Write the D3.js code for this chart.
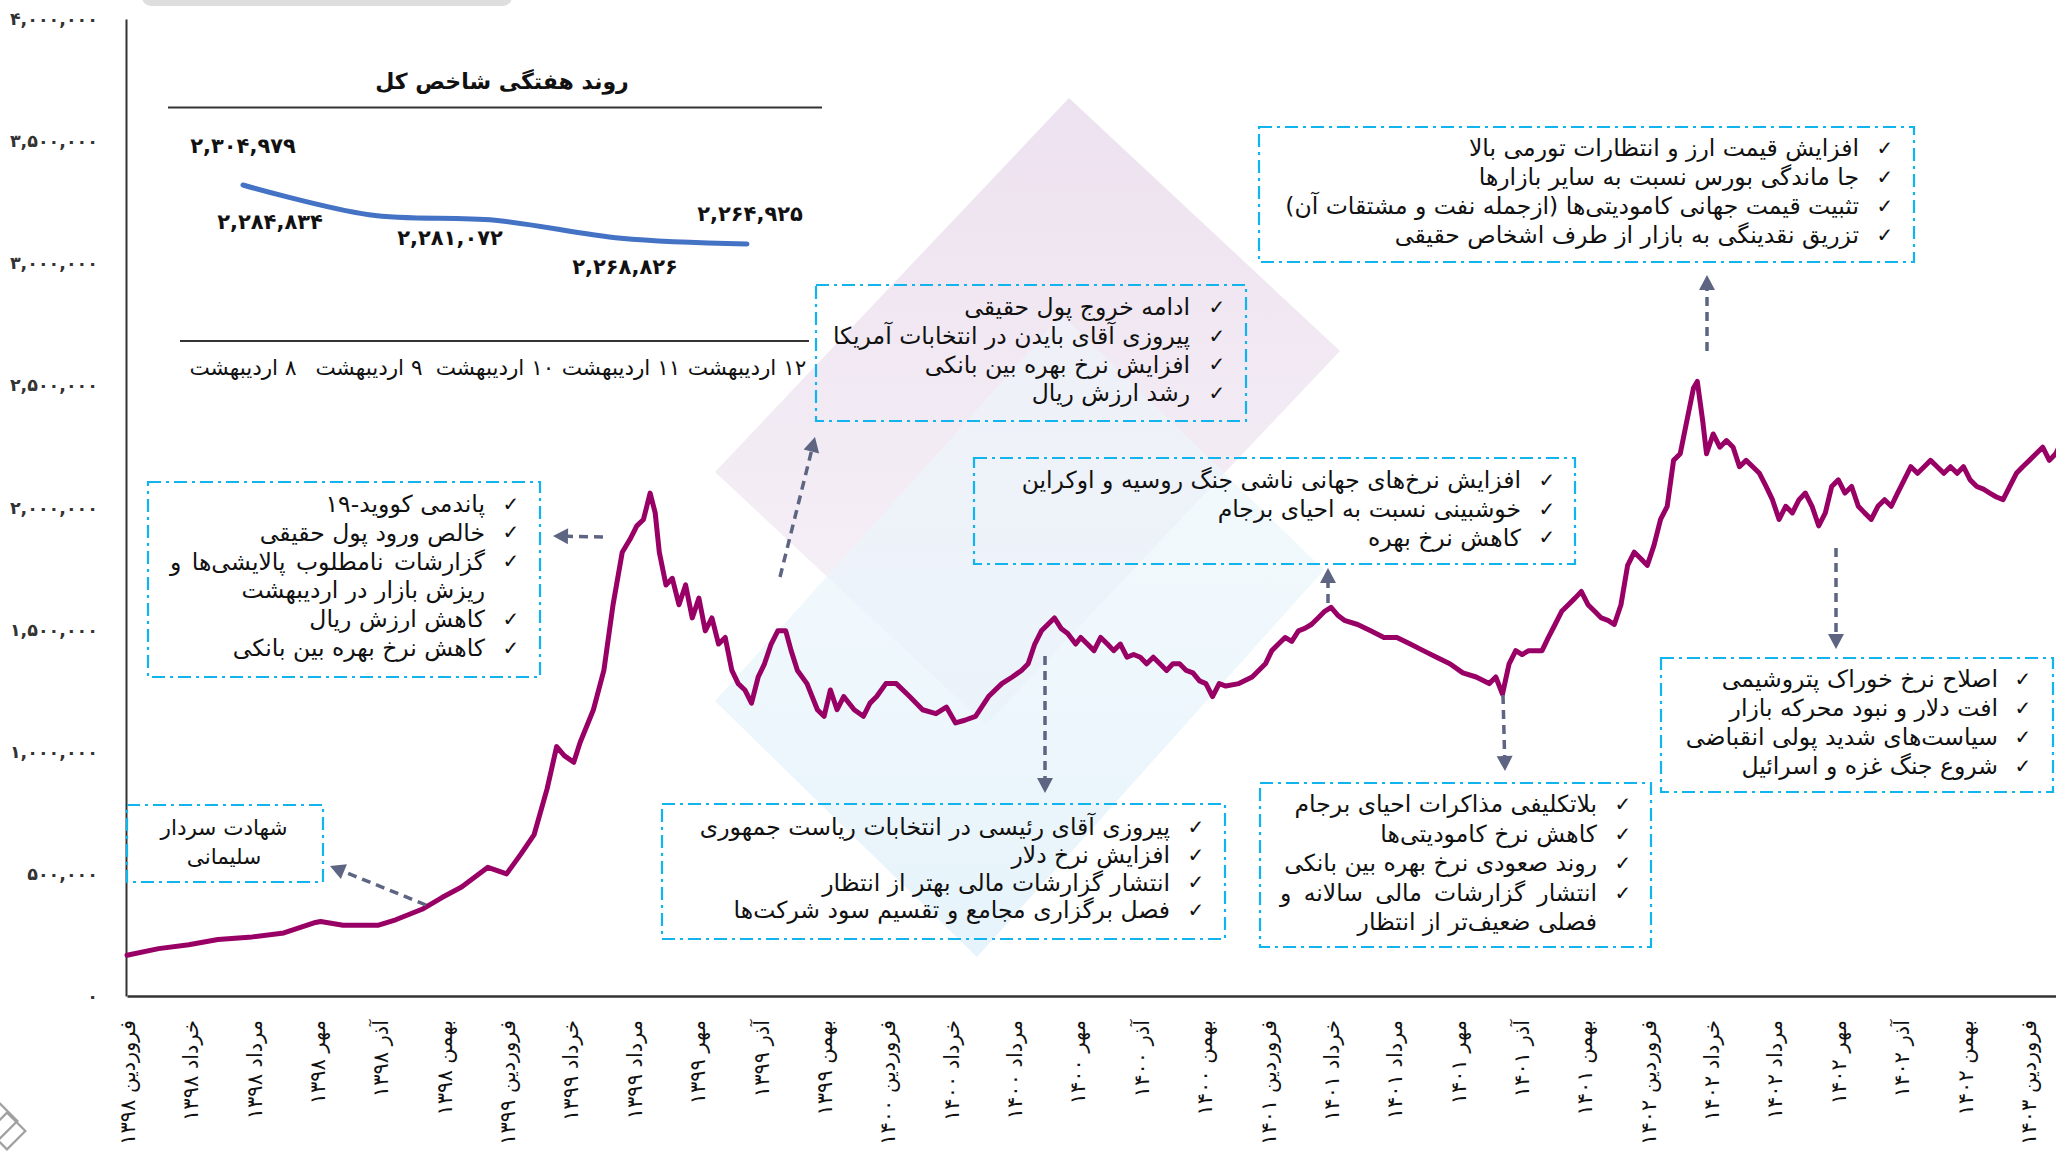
<!DOCTYPE html>
<html><head><meta charset="utf-8">
<script src="https://cdn.jsdelivr.net/npm/d3@7"></script>
<style>
body{margin:0;background:#fff;overflow:hidden}
svg{display:block}
text{font-family:"DejaVu Sans",sans-serif}
</style>
</head><body>
<svg id="c" width="2056" height="1151"></svg>
<script>
// ---------------- DATA ----------------
const xTickMonths = d3.range(0, 61, 2);
const xTickLabels = [
 "فروردین ۱۳۹۸","خرداد ۱۳۹۸","مرداد ۱۳۹۸","مهر ۱۳۹۸","آذر ۱۳۹۸","بهمن ۱۳۹۸",
 "فروردین ۱۳۹۹","خرداد ۱۳۹۹","مرداد ۱۳۹۹","مهر ۱۳۹۹","آذر ۱۳۹۹","بهمن ۱۳۹۹",
 "فروردین ۱۴۰۰","خرداد ۱۴۰۰","مرداد ۱۴۰۰","مهر ۱۴۰۰","آذر ۱۴۰۰","بهمن ۱۴۰۰",
 "فروردین ۱۴۰۱","خرداد ۱۴۰۱","مرداد ۱۴۰۱","مهر ۱۴۰۱","آذر ۱۴۰۱","بهمن ۱۴۰۱",
 "فروردین ۱۴۰۲","خرداد ۱۴۰۲","مرداد ۱۴۰۲","مهر ۱۴۰۲","آذر ۱۴۰۲","بهمن ۱۴۰۲",
 "فروردین ۱۴۰۳"];
const yTickValues = [0,500000,1000000,1500000,2000000,2500000,3000000,3500000,4000000];
const yTickLabels = ["۰","۵۰۰,۰۰۰","۱,۰۰۰,۰۰۰","۱,۵۰۰,۰۰۰","۲,۰۰۰,۰۰۰","۲,۵۰۰,۰۰۰","۳,۰۰۰,۰۰۰","۳,۵۰۰,۰۰۰","۴,۰۰۰,۰۰۰"];

// [month index from Farvardin 1398, index value in thousands]
const indexSeries = [
[0,167],[1.00,194],[1.95,210],[2.87,231],[3.95,242],[4.95,258],[5.95,301],[6.11,305],[6.82,290],[7.94,290],
[8.48,312],[9.31,355],[9.94,403],[10.56,446],[11.39,527],[11.98,500],[12.43,581],[12.85,661],[13.26,849],[13.56,1021],
[13.80,984],[14.10,957],[14.30,1038],[14.72,1172],[15.05,1333],[15.34,1602],[15.63,1817],[15.88,1871],[16.09,1925],[16.30,1951],
[16.51,2059],[16.67,1978],[16.80,1817],[17.01,1683],[17.21,1710],[17.42,1602],[17.63,1683],[17.84,1548],[18.05,1629],[18.25,1495],
[18.46,1548],[18.67,1441],[18.88,1468],[19.09,1333],[19.29,1279],[19.50,1253],[19.71,1199],[19.92,1306],[20.12,1360],[20.33,1441],
[20.54,1495],[20.79,1495],[20.96,1414],[21.16,1333],[21.46,1279],[21.79,1172],[22.00,1145],[22.20,1253],[22.41,1172],[22.62,1226],
[22.95,1172],[23.24,1145],[23.45,1199],[23.66,1226],[23.95,1279],[24.28,1279],[24.70,1226],[25.11,1172],[25.53,1156],[25.86,1183],
[26.15,1118],[26.44,1129],[26.78,1145],[27.19,1226],[27.61,1279],[27.94,1306],[28.23,1333],[28.44,1360],[28.65,1441],[28.86,1495],
[29.06,1521],[29.27,1548],[29.48,1505],[29.69,1484],[29.94,1441],[30.10,1468],[30.31,1441],[30.52,1414],[30.73,1468],[30.94,1441],
[31.14,1414],[31.35,1441],[31.56,1387],[31.77,1398],[31.98,1387],[32.18,1360],[32.39,1387],[32.60,1360],[32.81,1333],[33.01,1360],
[33.22,1360],[33.43,1333],[33.64,1323],[33.85,1290],[34.05,1279],[34.26,1226],[34.47,1279],[34.68,1269],[35.09,1279],[35.51,1306],
[35.93,1360],[36.13,1414],[36.34,1441],[36.55,1468],[36.76,1452],[36.97,1495],[37.17,1505],[37.38,1521],[37.59,1548],[37.80,1575],
[38.00,1591],[38.21,1559],[38.42,1538],[38.84,1521],[39.25,1495],[39.67,1468],[40.08,1468],[40.50,1441],[40.91,1414],[41.33,1387],
[41.75,1360],[42.16,1323],[42.58,1306],[42.99,1279],[43.20,1306],[43.41,1236],[43.62,1360],[43.83,1414],[44.03,1398],[44.24,1414],
[44.66,1414],[44.86,1468],[45.07,1521],[45.28,1575],[45.49,1602],[45.70,1629],[45.90,1656],[46.11,1602],[46.32,1575],[46.53,1548],
[46.74,1538],[46.94,1521],[47.15,1602],[47.36,1763],[47.57,1817],[47.78,1790],[47.98,1763],[48.19,1844],[48.40,1951],[48.61,2005],
[48.81,2193],[49.02,2220],[49.23,2355],[49.44,2489],[49.56,2516],[49.73,2355],[49.85,2220],[50.06,2301],[50.27,2247],[50.48,2274],
[50.69,2247],[50.89,2167],[51.10,2193],[51.31,2167],[51.52,2140],[51.73,2086],[51.93,2032],[52.14,1951],[52.35,2005],[52.56,1978],
[52.77,2032],[52.97,2059],[53.18,2005],[53.39,1925],[53.60,1978],[53.80,2086],[54.01,2113],[54.22,2059],[54.43,2086],[54.64,2005],
[54.84,1978],[55.05,1951],[55.26,2005],[55.47,2032],[55.68,2005],[55.88,2059],[56.09,2113],[56.30,2167],[56.51,2140],[56.72,2167],
[56.92,2193],[57.13,2167],[57.34,2140],[57.55,2167],[57.76,2140],[57.96,2167],[58.17,2113],[58.38,2086],[58.59,2075],[58.79,2059],
[59.00,2043],[59.21,2032],[59.42,2086],[59.63,2140],[59.83,2167],[60.04,2193],[60.25,2220],[60.46,2247],[60.67,2193],[60.87,2220],
[61.08,2274],[61.21,2301]];

const insetTitle = "روند هفتگی شاخص کل";
const insetDates = ["۸ اردیبهشت","۹ اردیبهشت","۱۰ اردیبهشت","۱۱ اردیبهشت","۱۲ اردیبهشت"];
const insetValues = [2304979,2284834,2281072,2268826,2264925];
const insetValueLabels = ["۲,۳۰۴,۹۷۹","۲,۲۸۴,۸۳۴","۲,۲۸۱,۰۷۲","۲,۲۶۸,۸۲۶","۲,۲۶۴,۹۲۵"];

const boxCovidLines = ["پاندمی کووید-۱۹","خالص ورود پول حقیقی","گزارشات نامطلوب پالایشی‌ها و","ریزش بازار در اردیبهشت","کاهش ارزش ریال","کاهش نرخ بهره بین بانکی"];
const boxCovidChecks = [1,1,1,0,1,1];
const boxSoleimaniLines = ["شهادت سردار","سلیمانی"];
const boxBidenLines = ["ادامه خروج پول حقیقی","پیروزی آقای بایدن در انتخابات آمریکا","افزایش نرخ بهره بین بانکی","رشد ارزش ریال"];
const boxFxLines = ["افزایش قیمت ارز و انتظارات تورمی بالا","جا ماندگی بورس نسبت به سایر بازارها","تثبیت قیمت جهانی کامودیتی‌ها (ازجمله نفت و مشتقات آن)","تزریق نقدینگی به بازار از طرف اشخاص حقیقی"];
const boxUkraineLines = ["افزایش نرخ‌های جهانی ناشی جنگ روسیه و اوکراین","خوشبینی نسبت به احیای برجام","کاهش نرخ بهره"];
const boxRaisiLines = ["پیروزی آقای رئیسی در انتخابات ریاست جمهوری","افزایش نرخ دلار","انتشار گزارشات مالی بهتر از انتظار","فصل برگزاری مجامع و تقسیم سود شرکت‌ها"];
const boxJcpoaLines = ["بلاتکلیفی مذاکرات احیای برجام","کاهش نرخ کامودیتی‌ها","روند صعودی نرخ بهره بین بانکی","انتشار گزارشات مالی سالانه و","فصلی ضعیف‌تر از انتظار"];
const boxJcpoaChecks = [1,1,1,1,0];
const boxPetroLines = ["اصلاح نرخ خوراک پتروشیمی","افت دلار و نبود محرکه بازار","سیاست‌های شدید پولی انقباضی","شروع جنگ غزه و اسرائیل"];

// ---------------- DRAW ----------------
const svg = d3.select("#c");
const FONT = "DejaVu Sans";
const defs = svg.append("defs");
const pg = defs.append("linearGradient").attr("id","pinkG").attr("x1",0).attr("y1",0).attr("x2",0).attr("y2",1);
pg.append("stop").attr("offset",0).attr("stop-color","#EDE2EF");
pg.append("stop").attr("offset",1).attr("stop-color","#F7F2F8");
const bg = defs.append("linearGradient").attr("id","blueG").attr("x1",0).attr("y1",0).attr("x2",0).attr("y2",1);
bg.append("stop").attr("offset",0).attr("stop-color","#EEF7FC").attr("stop-opacity",0.6);
bg.append("stop").attr("offset",1).attr("stop-color","#E3F2FA");

// decorative diamonds
svg.append("polygon").attr("points","1069,98 1340,351 986,725 715,472").attr("fill","url(#pinkG)");
svg.append("polygon").attr("points","1062,315 1324,570 977,957 715,701").attr("fill","url(#blueG)").attr("opacity",0.9);
// top grey band
svg.append("rect").attr("x",142).attr("y",-12).attr("width",370).attr("height",18).attr("rx",9).attr("fill","#DEDEDE");
// small logo bottom-left
const lg = svg.append("g").attr("fill","none").attr("stroke","#A0A0A0").attr("stroke-width",2.2);
lg.append("rect").attr("x",-14).attr("y",1108).attr("width",26).attr("height",26).attr("transform","rotate(45 -1 1121)");
lg.append("rect").attr("x",-6).attr("y",1118).attr("width",26).attr("height",26).attr("transform","rotate(45 7 1131)");

const x = d3.scaleLinear().domain([0, 60.88]).range([127, 2056]);
const y = d3.scaleLinear().domain([0, 4000000]).range([996, 19]);

// y axis
const gy = svg.append("g").attr("transform","translate(126,0)")
  .call(d3.axisLeft(y).tickValues(yTickValues).tickFormat((d,i)=>yTickLabels[i]).tickSize(0).tickPadding(28));
gy.select(".domain").attr("stroke","#333").attr("stroke-width",2);
gy.selectAll(".tick text").attr("font-family",FONT).attr("font-size",17.5).attr("font-weight","bold").attr("fill","#333");

// x axis
const gx = svg.append("g").attr("transform","translate(0,996)")
  .call(d3.axisBottom(x).tickValues(xTickMonths).tickFormat((d,i)=>xTickLabels[i]).tickSize(0));
gx.select(".domain").attr("stroke","#333").attr("stroke-width",2.5);
gx.selectAll(".tick text")
  .attr("font-family",FONT).attr("font-size",21).attr("fill","#111")
  .attr("direction","rtl")
  .attr("transform","rotate(-90)").attr("x",-24).attr("y",0).attr("dy","0.35em")
  .attr("text-anchor","start");

// main line
svg.append("path").datum(indexSeries)
  .attr("d", d3.line().x(d=>x(d[0])).y(d=>y(d[1]*1000)))
  .attr("fill","none").attr("stroke","#990066").attr("stroke-width",5)
  .attr("stroke-linejoin","round").attr("stroke-linecap","round");

// ---------- inset ----------
svg.append("text").attr("x",502).attr("y",81).attr("dy","0.35em").attr("text-anchor","middle")
  .attr("direction","rtl").attr("font-family",FONT).attr("font-weight","bold").attr("font-size",22).attr("fill","#111").text(insetTitle);
svg.append("line").attr("x1",168).attr("x2",822).attr("y1",107.5).attr("y2",107.5).attr("stroke","#333").attr("stroke-width",2);
svg.append("line").attr("x1",180).attr("x2",809).attr("y1",341).attr("y2",341).attr("stroke","#333").attr("stroke-width",2);
const xi = d3.scalePoint().domain(insetDates).range([243,747]);
const yi = d3.scaleLinear().domain([2264925,2304979]).range([244,185]);
svg.append("path").datum(insetValues)
  .attr("d", d3.line().x((d,i)=>xi(insetDates[i])).y(d=>yi(d)).curve(d3.curveCatmullRom))
  .attr("fill","none").attr("stroke","#4472C4").attr("stroke-width",5).attr("stroke-linecap","round");
const insetLabelOffsets = [[0,-39],[-99,7],[-45,17],[4,28],[3,-30]];
svg.selectAll(".ivl").data(insetValues).join("text").attr("class","ivl")
  .attr("x",(d,i)=>xi(insetDates[i])+insetLabelOffsets[i][0])
  .attr("y",(d,i)=>yi(d)+insetLabelOffsets[i][1]).attr("dy","0.35em")
  .attr("text-anchor","middle").attr("font-family",FONT).attr("font-weight","bold").attr("font-size",21).attr("fill","#111")
  .text((d,i)=>insetValueLabels[i]);
svg.selectAll(".idl").data(insetDates).join("text").attr("class","idl")
  .attr("x",d=>xi(d)).attr("y",367).attr("dy","0.35em").attr("text-anchor","middle").attr("direction","rtl")
  .attr("font-family",FONT).attr("font-size",21.5).attr("fill","#111").text(d=>d);

// ---------- annotation boxes ----------
function drawBox(lines, checks, L){
  const g = svg.append("g");
  g.append("rect").attr("x",L.x).attr("y",L.y).attr("width",L.w).attr("height",L.h)
    .attr("fill","none").attr("stroke","#12B4EE").attr("stroke-width",2.2).attr("stroke-dasharray","13,5,3,5");
  lines.forEach((t,i)=>{
    const yy = L.y0 + L.dy*i;
    if (L.center){
      g.append("text").attr("x",L.center).attr("y",yy).attr("dy","0.35em").attr("text-anchor","middle").attr("direction","rtl")
        .attr("font-family",FONT).attr("font-size",L.fs).attr("fill","#111").text(t);
      return;
    }
    const tx = g.append("text").attr("x",L.right).attr("y",yy).attr("dy","0.35em").attr("text-anchor","start").attr("direction","rtl")
      .attr("font-family",FONT).attr("font-size",L.fs).attr("fill","#111").text(t);
    if (L.justify && L.justify.index===i){
      const w = tx.node().getComputedTextLength();
      const n = (t.match(/ /g)||[]).length;
      const target = L.right - L.justify.left;
      if (n>0 && target>w) tx.attr("word-spacing", (target-w)/n);
    }
    if (checks[i]) g.append("text").attr("x",L.check).attr("y",yy).attr("dy","0.35em").attr("text-anchor","middle")
      .attr("font-family",FONT).attr("font-size",20).attr("fill","#111").text("✓");
  });
}
const FS = 23.5;
drawBox(boxCovidLines, boxCovidChecks, {x:148,y:482,w:392,h:195,y0:503.5,dy:28.9,right:485,check:511,fs:FS,justify:{index:2,left:170}});
drawBox(boxSoleimaniLines, [0,0], {x:127,y:805,w:196,h:77,y0:827,dy:29,center:224,fs:21.5});
drawBox(boxBidenLines, [1,1,1,1], {x:816,y:285,w:430,h:136,y0:307,dy:28.7,right:1190,check:1217,fs:FS});
drawBox(boxFxLines, [1,1,1,1], {x:1259,y:127,w:655,h:135,y0:148,dy:29,right:1859,check:1885,fs:FS});
drawBox(boxUkraineLines, [1,1,1], {x:974,y:458,w:601,h:106,y0:480,dy:28.7,right:1521,check:1547,fs:FS});
drawBox(boxRaisiLines, [1,1,1,1], {x:662,y:804,w:563,h:135,y0:827,dy:27.7,right:1170,check:1196,fs:FS});
drawBox(boxJcpoaLines, boxJcpoaChecks, {x:1260,y:783,w:391,h:164,y0:804,dy:29.5,right:1597,check:1623,fs:FS,justify:{index:3,left:1280}});
drawBox(boxPetroLines, [1,1,1,1], {x:1661,y:658,w:392,h:134,y0:679,dy:29,right:1998,check:2023,fs:FS});

// ---------- arrows ----------
function arrow(x1,y1,x2,y2){
  const a = Math.atan2(y2-y1,x2-x1), len=15, hw=8;
  const bx = x2 - len*Math.cos(a), by = y2 - len*Math.sin(a);
  svg.append("line").attr("x1",x1).attr("y1",y1).attr("x2",bx).attr("y2",by)
    .attr("stroke","#5E6582").attr("stroke-width",3.5).attr("stroke-dasharray","9,6");
  const px = -Math.sin(a)*hw, py = Math.cos(a)*hw;
  svg.append("polygon").attr("points",`${x2},${y2} ${bx+px},${by+py} ${bx-px},${by-py}`).attr("fill","#5E6582");
}
arrow(426,905,330,866);
arrow(603,537,553,536);
arrow(780,577,815,437);
arrow(1045,656,1045,793);
arrow(1328,603,1328,568);
arrow(1503,695,1505,771);
arrow(1707,351,1707,275);
arrow(1836,548,1836,649);
</script>
</body></html>
